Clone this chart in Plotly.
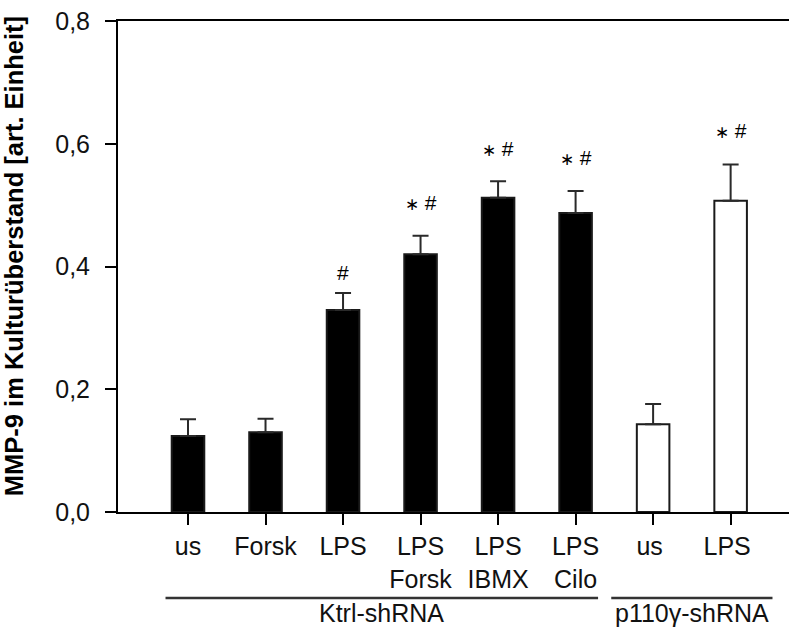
import plotly.graph_objects as go

# ---- data ----
categories = ["us", "Forsk", "LPS", "LPS<br>Forsk", "LPS<br>IBMX", "LPS<br>Cilo", "us ", "LPS "]
values = [0.124, 0.130, 0.329, 0.420, 0.512, 0.487, 0.143, 0.507]
errors = [0.027, 0.022, 0.028, 0.030, 0.027, 0.036, 0.033, 0.059]
groups = ["Ktrl", "Ktrl", "Ktrl", "Ktrl", "Ktrl", "Ktrl", "p110", "p110"]
sig_star = [False, False, False, True, True, True, False, True]
sig_hash = [False, False, True, True, True, True, False, True]
sig_y = [None, None, 0.391, 0.505, 0.592, 0.578, None, 0.621]
group_names = {"Ktrl": "Ktrl-shRNA", "p110": "p110γ-shRNA"}
group_pad = {"Ktrl": 0.29, "p110": 0.54}
y_ticks = [0.0, 0.2, 0.4, 0.6, 0.8]

FONT = "Liberation Sans, Arial, sans-serif"
idx = list(range(len(categories)))

fig = go.Figure()
fig.add_trace(go.Bar(
    x=idx, y=values, width=0.42,
    marker=dict(color=["black" if g == "Ktrl" else "white" for g in groups],
                line=dict(color="#1a1a1a", width=2)),
    error_y=dict(type="data", symmetric=False, array=errors,
                 arrayminus=[0] * len(errors), color="#2a2a2a",
                 thickness=2, width=8),
    showlegend=False,
))

annotations = []
for i in idx:
    if sig_y[i] is None:
        continue
    parts = []
    if sig_star[i]:
        parts.append("<span style='font-size:17px'>∗</span>")
    if sig_hash[i]:
        parts.append("#")
    annotations.append(dict(x=i, y=sig_y[i], xref="x", yref="y",
                            text="&nbsp;".join(parts),
                            showarrow=False, xanchor="center", yanchor="middle",
                            font=dict(family=FONT, size=21, color="black")))

shapes = []
for g in ["Ktrl", "p110"]:
    members = [i for i, gg in enumerate(groups) if gg == g]
    x0 = members[0] - group_pad[g]
    x1 = members[-1] + group_pad[g]
    shapes.append(dict(type="line", xref="x", yref="paper", x0=x0, x1=x1,
                       y0=-0.175, y1=-0.175, line=dict(color="#333333", width=2.5)))
    annotations.append(dict(x=(x0 + x1) / 2, y=-0.206, xref="x", yref="paper",
                            text=group_names[g], showarrow=False,
                            xanchor="center", yanchor="middle",
                            font=dict(family=FONT, size=25, color="#111111")))

annotations.append(dict(x=-0.155, y=0.521, xref="paper", yref="paper",
                        text="<b>MMP-9 im Kulturüberstand [art. Einheit]</b>",
                        textangle=-90, showarrow=False,
                        xanchor="center", yanchor="middle",
                        font=dict(family=FONT, size=25.5, color="black")))

fig.update_layout(
    width=789, height=628,
    margin=dict(l=118, r=0, t=21, b=116, autoexpand=False),
    paper_bgcolor="white", plot_bgcolor="white",
    separators=", ",
    font=dict(family=FONT, size=25, color="#111111"),
    bargap=0.5,
    hovermode=False,
    xaxis=dict(range=[-0.903, 7.753], tickmode="array", tickvals=idx,
               ticktext=categories, showline=True, linewidth=2, linecolor="black",
               mirror=True, ticks="outside", ticklen=11, tickwidth=2,
               tickcolor="black", showgrid=False, zeroline=False, automargin=False,
               tickfont=dict(family=FONT, size=25, color="#111111")),
    yaxis=dict(range=[0, 0.8], tickmode="array", tickvals=y_ticks,
               tickformat=".1f", showline=True, linewidth=2, linecolor="black",
               ticks="outside", ticklen=11, tickwidth=2, tickcolor="black",
               showgrid=False, zeroline=False, ticklabelstandoff=10, automargin=False,
               tickfont=dict(family=FONT, size=25, color="#111111")),
    annotations=annotations, shapes=shapes,
)

# remove the default 8 px page margin so the figure sits at the window's corner
fig.write_html("out.html",
               config={"displayModeBar": False},
               post_script="document.body.style.margin='0';document.body.style.padding='0';")
